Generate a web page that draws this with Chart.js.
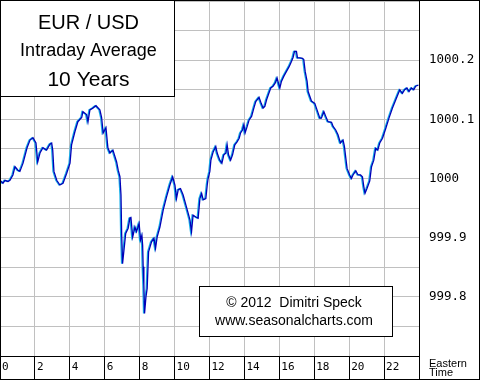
<!DOCTYPE html>
<html>
<head>
<meta charset="utf-8">
<script src="https://cdn.jsdelivr.net/npm/chart.js@4"></script>
<style>
html,body{margin:0;padding:0;background:#fff;}
canvas{display:block;}
</style>
</head>
<body>
<canvas id="c" width="480" height="380"></canvas>
<script>
// Hours (Eastern Time) and indexed EUR/USD intraday average values
const hours = [0.00,0.17,0.29,0.46,0.57,0.74,0.86,1.03,1.14,1.32,1.55,1.72,1.89,2.06,2.16,2.29,2.46,2.67,2.86,2.96,3.02,3.09,3.25,3.43,3.61,3.82,4.01,4.10,4.29,4.46,4.68,4.75,4.96,5.04,5.15,5.32,5.50,5.72,5.82,5.91,6.07,6.18,6.30,6.47,6.68,6.77,6.87,6.93,6.97,7.02,7.10,7.20,7.34,7.44,7.50,7.60,7.73,7.82,7.97,8.05,8.13,8.17,8.20,8.24,8.28,8.36,8.43,8.51,8.59,8.68,8.82,8.91,9.00,9.16,9.35,9.54,9.73,9.89,10.02,10.11,10.21,10.34,10.49,10.65,10.78,10.88,10.97,11.06,11.22,11.35,11.45,11.55,11.64,11.79,11.87,11.92,12.02,12.08,12.21,12.36,12.44,12.59,12.71,12.82,12.94,13.01,13.09,13.21,13.32,13.45,13.58,13.70,13.78,13.89,13.97,14.04,14.16,14.27,14.41,14.54,14.65,14.84,14.96,15.07,15.17,15.27,15.40,15.51,15.64,15.76,15.87,15.95,16.03,16.12,16.26,16.41,16.56,16.70,16.79,16.87,16.98,17.04,17.17,17.33,17.40,17.48,17.59,17.65,17.84,18.03,18.16,18.32,18.41,18.55,18.66,18.79,18.99,19.08,19.23,19.36,19.50,19.65,19.73,19.81,19.88,20.03,20.13,20.22,20.38,20.51,20.65,20.76,20.84,20.91,21.02,21.18,21.28,21.41,21.52,21.64,21.75,21.91,22.10,22.28,22.48,22.67,22.82,22.90,23.05,23.18,23.31,23.43,23.57,23.70,23.81,23.97];
const values = [999.997,999.992,999.997,999.995,999.997,1000.006,1000.020,1000.014,1000.012,1000.026,1000.052,1000.065,1000.069,1000.060,1000.028,1000.043,1000.052,1000.048,1000.058,1000.060,1000.048,1000.012,999.997,999.989,999.992,1000.009,1000.026,1000.057,1000.079,1000.096,1000.103,1000.113,1000.108,1000.096,1000.116,1000.119,1000.123,1000.116,1000.103,1000.077,1000.086,1000.052,1000.043,1000.048,1000.028,1000.014,1000.003,999.972,999.904,999.856,999.879,999.907,999.916,999.933,999.934,999.901,999.918,999.910,999.924,999.896,999.904,999.887,999.851,999.820,999.772,999.800,999.814,999.876,999.884,999.893,999.899,999.882,999.901,999.918,999.947,999.969,999.989,1000.003,999.989,999.966,999.981,999.983,999.972,999.955,999.941,999.930,999.910,999.938,999.935,999.933,999.966,999.975,999.964,999.966,999.989,1000.000,1000.012,1000.031,1000.045,1000.054,1000.043,1000.031,1000.026,1000.040,1000.043,1000.057,1000.040,1000.031,1000.040,1000.057,1000.062,1000.068,1000.077,1000.082,1000.091,1000.077,1000.088,1000.099,1000.105,1000.119,1000.130,1000.137,1000.127,1000.119,1000.122,1000.133,1000.144,1000.153,1000.156,1000.161,1000.170,1000.161,1000.153,1000.164,1000.173,1000.181,1000.189,1000.198,1000.205,1000.215,1000.215,1000.204,1000.204,1000.203,1000.201,1000.181,1000.164,1000.147,1000.131,1000.127,1000.116,1000.102,1000.102,1000.113,1000.105,1000.096,1000.095,1000.088,1000.082,1000.074,1000.060,1000.065,1000.054,1000.034,1000.017,1000.006,1000.000,1000.006,1000.013,1000.006,1000.006,1000.003,999.986,999.975,999.983,999.996,1000.020,1000.031,1000.051,1000.048,1000.060,1000.068,1000.085,1000.102,1000.119,1000.133,1000.144,1000.150,1000.144,1000.150,1000.153,1000.147,1000.153,1000.150,1000.156,1000.158];
const xTickHours = [0,2,4,6,8,10,12,14,16,18,20,22];
const yTickLabels = ['1000.2','1000.1','1000','999.9','999.8'];
const titleLines = ['EUR / USD','Intraday Average','10 Years'];
const creditLines = ['\u00A9 2012  Dimitri Speck','www.seasonalcharts.com'];
const axisNote = ['Eastern','Time'];

const points = hours.map((h,i)=>({x:h,y:values[i]}));

const overlay = {
  id:'overlay',
  beforeDatasetDraw(chart){
    const ctx = chart.ctx;
    ctx.save();
    ctx.shadowColor = '#18b0e8';
    ctx.shadowOffsetX = -1;
    ctx.shadowOffsetY = 0;
    ctx.shadowBlur = 0;
  },
  afterDatasetDraw(chart){ chart.ctx.restore(); },
  afterDraw(chart){
    const ctx = chart.ctx;
    ctx.save();
    ctx.strokeStyle = '#000';
    ctx.lineWidth = 1;
    // title box
    ctx.fillStyle = '#fff';
    ctx.fillRect(0.5,0.5,174,96);
    ctx.strokeRect(0.5,0.5,174,96);
    ctx.fillStyle = '#000';
    ctx.textAlign = 'center';
    ctx.textBaseline = 'alphabetic';
    ctx.font = '20px "Liberation Sans", Arial, sans-serif';
    ctx.fillText(titleLines[0], 88.5, 28.5);
    ctx.font = '18px "Liberation Sans", Arial, sans-serif';
    ctx.fillText(titleLines[1], 88.5, 55.5);
    ctx.font = '21px "Liberation Sans", Arial, sans-serif';
    ctx.fillText(titleLines[2], 88.5, 86);
    // credit box
    ctx.fillStyle = '#fff';
    ctx.fillRect(199.5,286.5,193,50);
    ctx.strokeRect(199.5,286.5,193,50);
    ctx.fillStyle = '#000';
    ctx.font = '14px "Liberation Sans", Arial, sans-serif';
    ctx.fillText(creditLines[0], 294, 307);
    ctx.fillText(creditLines[1], 294, 324.5);
    // eastern time note
    ctx.textAlign = 'left';
    ctx.font = '11px "Liberation Sans", Arial, sans-serif';
    ctx.fillText(axisNote[0], 429, 367);
    ctx.fillText(axisNote[1], 429, 376);
    // frame
    ctx.strokeRect(0.5,0.5,479,379);
    ctx.restore();
  }
};

new Chart(document.getElementById('c'), {
  type:'line',
  data:{datasets:[{
    data: points,
    borderColor:'#0000b8',
    borderWidth:1.3,
    pointRadius:0,
    tension:0,
    fill:false
  }]},
  options:{
    responsive:false,
    animation:false,
    devicePixelRatio:1,
    layout:{padding:{top:1,left:0,right:0,bottom:0}},
    plugins:{legend:{display:false},tooltip:{enabled:false}},
    scales:{
      x:{
        type:'linear', min:0, max:24,
        afterBuildTicks(s){ s.ticks = xTickHours.concat([24]).map(v=>({value:v})); },
        afterFit(s){ s.height = 24; s.paddingLeft = 0; s.paddingRight = 0; },
        grid:{color:'#c0c0c0', tickColor:'#000', tickLength:24, lineWidth:1},
        border:{display:true,color:'#000'},
        ticks:{
          align:'start', labelOffset:2, padding:-19, maxRotation:0, autoSkip:false,
          color:'#000', font:{family:'"DejaVu Sans Mono", monospace', size:11},
          callback:(v)=> xTickHours.includes(v) ? String(v) : ''
        }
      },
      y:{
        type:'linear', position:'right', min:999.7, max:1000.3,
        afterBuildTicks(s){
          const t=[]; for(let k=0;k<=12;k++){ t.push({value: (99970 + k*5)/100}); }
          s.ticks = t;
        },
        afterFit(s){ s.width = 61; s.paddingTop = 0; s.paddingBottom = 0; },
        grid:{color:'#c0c0c0', drawTicks:false, lineWidth:1},
        border:{display:true,color:'#000'},
        ticks:{
          padding:10, autoSkip:false, color:'#000',
          font:{family:'"DejaVu Sans Mono", monospace', size:12.5},
          callback:(v)=>{ const s=String(Math.round(v*100)/100); return yTickLabels.includes(s) ? s : ''; }
        }
      }
    }
  },
  plugins:[overlay]
});
</script>
</body>
</html>
